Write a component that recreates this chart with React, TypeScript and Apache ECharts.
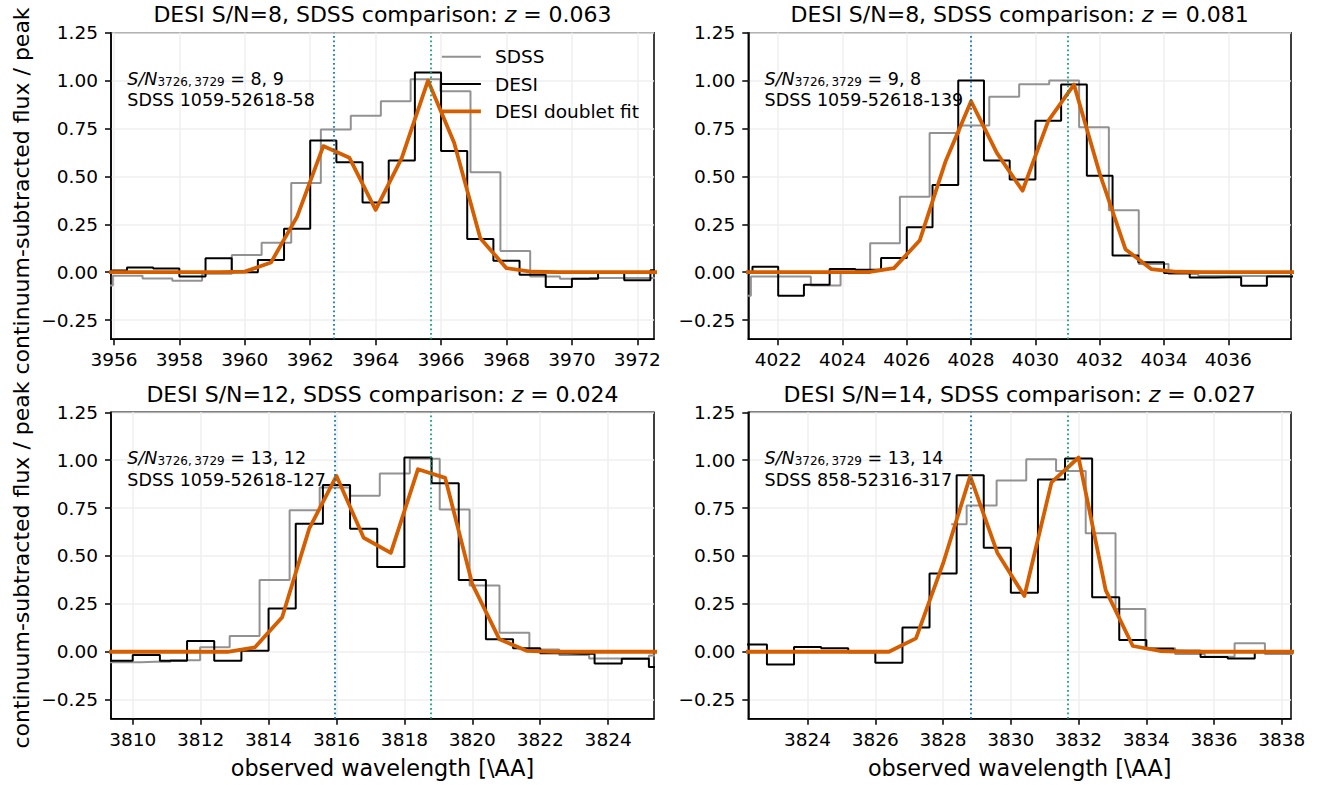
import React, { useEffect, useRef } from 'react';
import * as echarts from 'echarts';

const FONT = 'DejaVu Sans';

// ---------------- data ----------------
// Panel 1: z = 0.063
const desiWave1 = [3955.2, 3956.0, 3956.8, 3957.6, 3958.4, 3959.2, 3960.0, 3960.8, 3961.6, 3962.4, 3963.2, 3964.0, 3964.8, 3965.6, 3966.4, 3967.2, 3968.0, 3968.8, 3969.6, 3970.4, 3971.2, 3972.0, 3972.8];
const desiFlux1 = [0.005, 0.008, 0.024, 0.019, -0.023, 0.073, 0.0, 0.064, 0.227, 0.687, 0.574, 0.364, 0.583, 1.042, 0.632, 0.173, 0.059, -0.014, -0.077, -0.035, -0.003, -0.042, 0.01];
const fitFlux1 = [0, 0, 0, 0, 0, 0, 0.003, 0.05, 0.29, 0.658, 0.597, 0.325, 0.597, 1.0, 0.675, 0.177, 0.021, 0.002, 0, 0, 0, 0, 0];
const sdssWave1 = [3955.51, 3956.42, 3957.33, 3958.24, 3959.15, 3960.06, 3960.97, 3961.87, 3962.78, 3963.7, 3964.62, 3965.52, 3966.44, 3967.36, 3968.27, 3969.18, 3970.09, 3971.0, 3971.9, 3972.82];
const sdssFlux1 = [-0.07, -0.019, -0.033, -0.045, -0.008, 0.09, 0.154, 0.465, 0.745, 0.816, 0.892, 1.007, 0.944, 0.522, 0.111, -0.023, -0.035, -0.03, -0.03, -0.03];
const lines1 = [3962.72, 3965.67];
const xTicks1 = [3956, 3958, 3960, 3962, 3964, 3966, 3968, 3970, 3972];
const xRange1 = [3955.91, 3972.51];

// Panel 2: z = 0.081
const desiWave2 = [4020.8, 4021.6, 4022.4, 4023.2, 4024.0, 4024.8, 4025.6, 4026.4, 4027.2, 4028.0, 4028.8, 4029.6, 4030.4, 4031.2, 4032.0, 4032.8, 4033.6, 4034.4, 4035.2, 4036.0, 4036.8, 4037.6, 4038.4];
const desiFlux2 = [0.0, 0.028, -0.123, -0.066, 0.017, 0.012, 0.074, 0.234, 0.455, 1.0, 0.583, 0.484, 0.79, 0.979, 0.503, 0.087, 0.052, -0.005, -0.028, -0.026, -0.071, -0.023, -0.02];
const fitFlux2 = [0, 0, 0, 0, 0, 0, 0.021, 0.165, 0.576, 0.892, 0.623, 0.425, 0.79, 0.979, 0.515, 0.12, 0.016, 0.002, 0, 0, 0, 0, 0];
const sdssWave2 = [4020.68, 4021.62, 4022.55, 4023.48, 4024.4, 4025.32, 4026.25, 4027.17, 4028.1, 4029.03, 4029.96, 4030.9, 4031.82, 4032.75, 4033.68, 4034.6, 4035.53, 4036.45, 4037.38, 4038.3];
const sdssFlux2 = [-0.123, -0.023, -0.023, -0.07, -0.005, 0.151, 0.394, 0.727, 0.766, 0.915, 0.981, 1.0, 0.757, 0.323, 0.042, -0.01, -0.02, -0.02, -0.02, -0.02];
const lines2 = [4028.0, 4031.02];
const xTicks2 = [4022, 4024, 4026, 4028, 4030, 4032, 4034, 4036];
const xRange2 = [4021.07, 4037.95];

// Panel 3: z = 0.024
const desiWave3 = [3808.8, 3809.6, 3810.4, 3811.2, 3812.0, 3812.8, 3813.6, 3814.4, 3815.2, 3816.0, 3816.8, 3817.6, 3818.4, 3819.2, 3820.0, 3820.8, 3821.6, 3822.4, 3823.2, 3824.0, 3824.8, 3825.6];
const desiFlux3 = [-0.047, -0.047, -0.017, -0.047, 0.056, -0.047, 0.005, 0.226, 0.668, 0.87, 0.642, 0.443, 1.014, 0.88, 0.374, 0.065, 0.018, -0.008, -0.01, -0.061, -0.036, -0.08];
const fitFlux3 = [0, 0, 0, 0, 0, 0, 0.023, 0.18, 0.644, 0.918, 0.595, 0.516, 0.953, 0.908, 0.353, 0.065, 0.005, 0, 0, 0, 0, 0];
const sdssWave3 = [3808.92, 3809.8, 3810.67, 3811.55, 3812.42, 3813.29, 3814.18, 3815.06, 3815.95, 3816.83, 3817.72, 3818.6, 3819.48, 3820.36, 3821.24, 3822.12, 3823.0, 3823.88, 3824.76, 3825.64];
const sdssFlux3 = [-0.055, -0.055, -0.052, -0.045, 0.023, 0.082, 0.374, 0.739, 0.858, 0.814, 0.93, 1.007, 0.743, 0.346, 0.099, 0.012, -0.017, -0.035, -0.035, -0.02];
const lines3 = [3815.94, 3818.79];
const xTicks3 = [3810, 3812, 3814, 3816, 3818, 3820, 3822, 3824];
const xRange3 = [3809.36, 3825.35];

// Panel 4: z = 0.027
const desiWave4 = [3821.6, 3822.4, 3823.2, 3824.0, 3824.8, 3825.6, 3826.4, 3827.2, 3828.0, 3828.8, 3829.6, 3830.4, 3831.2, 3832.0, 3832.8, 3833.6, 3834.4, 3835.2, 3836.0, 3836.8, 3837.6, 3838.4];
const desiFlux4 = [0.038, 0.038, -0.066, 0.025, 0.018, -0.003, -0.057, 0.127, 0.409, 0.922, 0.543, 0.308, 0.899, 1.009, 0.285, 0.061, 0.016, 0.005, -0.028, -0.035, -0.003, -0.003];
const fitFlux4 = [0, 0, 0, 0, 0, 0, 0.0, 0.07, 0.461, 0.917, 0.517, 0.291, 0.884, 1.014, 0.322, 0.03, 0.004, 0, 0, 0, 0, 0];
const sdssWave4 = [3828.24, 3829.15, 3830.01, 3830.9, 3831.77, 3832.65, 3833.53, 3834.41, 3835.29, 3836.16, 3837.05, 3837.95, 3838.85];
const sdssFlux4 = [0.665, 0.764, 0.894, 1.005, 0.943, 0.618, 0.223, 0.018, -0.012, -0.026, 0.045, -0.012, -0.012];
const lines4 = [3828.81, 3831.68];
const xTicks4 = [3824, 3826, 3828, 3830, 3832, 3834, 3836, 3838];
const xRange4 = [3822.25, 3838.27];

const yTicks = [-0.25, 0, 0.25, 0.5, 0.75, 1.0, 1.25];
const yRange = [-0.35, 1.25];

const titleSN = ['8', '8', '12', '14'];
const titleZ = ['0.063', '0.081', '0.024', '0.027'];
const snPairs = ['8, 9', '9, 8', '13, 12', '13, 14'];
const sdssIds = ['SDSS 1059-52618-58', 'SDSS 1059-52618-139', 'SDSS 1059-52618-127', 'SDSS 858-52316-317'];
const seriesNames = ['SDSS', 'DESI', 'DESI doublet fit'];
const xLabel = 'observed wavelength [\\AA]';
const yLabel = 'continuum-subtracted flux / peak continuum-subtracted flux / peak';

// ---------------- layout / style ----------------
const rects = [
  { left: 111, top: 32.7, width: 543, height: 306.5 },
  { left: 748.3, top: 32.7, width: 542.7, height: 306.5 },
  { left: 111, top: 412.3, width: 543, height: 306.5 },
  { left: 748.3, top: 412.3, width: 542.7, height: 306.5 },
];

const COL_SDSS = '#929292';
const COL_DESI = '#000000';
const COL_FIT = '#D55E00';
const COL_L1 = '#0173B2';
const COL_L2 = '#029E73';
const COL_GRID = '#efefef';
const W_SDSS = 2;
const W_DESI = 2;
const W_FIT = 3.8;

const zip = (xs: number[], ys: number[]) => xs.map((x, i) => [x, ys[i]]);
const fmtY = (v: number) => (v < 0 ? '\u2212' : '') + Math.abs(v).toFixed(2);

function buildOption() {
  const panels = [
    { dw: desiWave1, df: desiFlux1, ff: fitFlux1, sw: sdssWave1, sf: sdssFlux1, lines: lines1, ticks: xTicks1, range: xRange1 },
    { dw: desiWave2, df: desiFlux2, ff: fitFlux2, sw: sdssWave2, sf: sdssFlux2, lines: lines2, ticks: xTicks2, range: xRange2 },
    { dw: desiWave3, df: desiFlux3, ff: fitFlux3, sw: sdssWave3, sf: sdssFlux3, lines: lines3, ticks: xTicks3, range: xRange3 },
    { dw: desiWave4, df: desiFlux4, ff: fitFlux4, sw: sdssWave4, sf: sdssFlux4, lines: lines4, ticks: xTicks4, range: xRange4 },
  ];

  const grid = rects.map((r) => ({
    left: r.left, top: r.top, width: r.width, height: r.height,
    show: true, borderColor: '#000', borderWidth: 1.5, backgroundColor: 'transparent',
  }));

  const xAxis = panels.map((p, i) => ({
    type: 'value', gridIndex: i, min: p.range[0], max: p.range[1],
    axisLine: { show: true, onZero: false, lineStyle: { color: '#000', width: 1.5 } },
    axisTick: { show: true, inside: false, length: 6, lineStyle: { color: '#000', width: 1.5 }, customValues: p.ticks },
    axisLabel: { show: true, customValues: p.ticks, fontSize: 18.5, fontFamily: FONT, color: '#000', margin: 11, formatter: (v: number) => String(Math.round(v)) },
    splitLine: { show: true, lineStyle: { color: COL_GRID, width: 1.5 } },
    name: i >= 2 ? xLabel : '',
    nameLocation: 'middle', nameGap: 38,
    nameTextStyle: { fontSize: 22.3, fontFamily: FONT, color: '#000' },
  }));

  const yAxis = panels.map((_, i) => ({
    type: 'value', gridIndex: i, min: yRange[0], max: yRange[1],
    axisLine: { show: true, onZero: false, lineStyle: { color: '#000', width: 1.5 } },
    axisTick: { show: true, inside: false, length: 6, lineStyle: { color: '#000', width: 1.5 }, customValues: yTicks },
    axisLabel: { show: true, customValues: yTicks, fontSize: 18.5, fontFamily: FONT, color: '#000', margin: 13, formatter: fmtY },
    splitLine: { show: true, lineStyle: { color: COL_GRID, width: 1.5 } },
  }));

  const series: any[] = [];
  panels.forEach((p, i) => {
    series.push({
      type: 'line', name: seriesNames[0], xAxisIndex: i, yAxisIndex: i,
      data: zip(p.sw, p.sf), step: 'middle', symbol: 'none', clip: true, silent: true,
      lineStyle: { color: COL_SDSS, width: W_SDSS }, itemStyle: { color: COL_SDSS },
      markLine: {
        silent: true, symbol: ['none', 'none'], label: { show: false },
        lineStyle: { width: 1.7, type: [1.7, 2.8] },
        data: [
          { xAxis: p.lines[0], lineStyle: { color: COL_L1, width: 1.7, type: [1.7, 2.8] } },
          { xAxis: p.lines[1], lineStyle: { color: COL_L2, width: 1.7, type: [1.7, 2.8] } },
        ],
      },
    });
    series.push({
      type: 'line', name: seriesNames[1], xAxisIndex: i, yAxisIndex: i,
      data: zip(p.dw, p.df), step: 'middle', symbol: 'none', clip: true, silent: true,
      lineStyle: { color: COL_DESI, width: W_DESI }, itemStyle: { color: COL_DESI },
    });
    series.push({
      type: 'line', name: seriesNames[2], xAxisIndex: i, yAxisIndex: i,
      data: zip(p.dw, p.ff), symbol: 'none', clip: true, silent: true,
      lineStyle: { color: COL_FIT, width: W_FIT, join: 'round' }, itemStyle: { color: COL_FIT },
    });
  });

  const title = rects.map((r, i) => ({
    text: `DESI S/N=${titleSN[i]}, SDSS comparison: {it|z}{rm| = ${titleZ[i]}}`,
    left: r.left + r.width / 2, top: r.top - 29, textAlign: 'center', padding: 0,
    textStyle: {
      fontSize: 22, fontFamily: FONT, fontWeight: 'normal', color: '#000', lineHeight: 22,
      rich: {
        it: { fontSize: 22, fontFamily: FONT, fontStyle: 'italic', color: '#000', lineHeight: 22 },
        rm: { fontSize: 22, fontFamily: FONT, color: '#000', lineHeight: 22 },
      },
    },
  }));

  const annRich = {
    it: { fontSize: 17.5, fontFamily: FONT, fontStyle: 'italic', fill: '#000', verticalAlign: 'bottom', lineHeight: 20 },
    sub: { fontSize: 12, fontFamily: FONT, fill: '#000', verticalAlign: 'bottom', lineHeight: 14 },
    rm: { fontSize: 17.5, fontFamily: FONT, fill: '#000', verticalAlign: 'bottom', lineHeight: 20 },
  };

  const elements: any[] = [
    {
      type: 'text', x: 21, y: 378, rotation: Math.PI / 2, silent: true,
      style: { text: yLabel, fontSize: 22, fontFamily: FONT, fill: '#000', align: 'center', verticalAlign: 'middle' },
    },
  ];
  rects.forEach((r, i) => {
    elements.push({
      type: 'text', x: r.left + 16.3, y: r.top + 45, silent: true, z: 100,
      style: {
        text: `{it|S/N}{sub|3726,\u20093729}{rm| = ${snPairs[i]}}`,
        rich: annRich, align: 'left', verticalAlign: 'middle', fill: '#000',
      },
    });
    elements.push({
      type: 'text', x: r.left + 16.3, y: r.top + 67.5, silent: true, z: 100,
      style: { text: sdssIds[i], fontSize: 17.5, fontFamily: FONT, fill: '#000', align: 'left', verticalAlign: 'middle' },
    });
  });

  const legendWidths = [W_SDSS, W_DESI, W_FIT];
  const legendColors = [COL_SDSS, COL_DESI, COL_FIT];

  return {
    animation: false,
    backgroundColor: '#ffffff',
    textStyle: { fontFamily: FONT },
    title,
    legend: {
      data: seriesNames.map((n, k) => ({
        name: n,
        lineStyle: { width: legendWidths[k], color: legendColors[k] },
      })),
      orient: 'vertical', left: 440, top: 46.7, padding: 0,
      itemWidth: 39, itemHeight: 14, itemGap: 7.3, selectedMode: false,
      itemStyle: { opacity: 0 },
      textStyle: { fontSize: 18.5, fontFamily: FONT, color: '#000', lineHeight: 20, padding: [0, 0, 0, 9] },
    },
    grid, xAxis, yAxis, series,
    graphic: { elements },
  };
}

export default function App() {
  const ref = useRef<HTMLDivElement>(null);
  useEffect(() => {
    if (!ref.current) return;
    const chart = echarts.init(ref.current, null, { renderer: 'svg' });
    chart.setOption(buildOption() as any);
    return () => chart.dispose();
  }, []);
  return (
    <div
      ref={ref}
      style={{ position: 'absolute', left: 0, top: 0, width: 1330, height: 785, background: '#fff' }}
    />
  );
}
